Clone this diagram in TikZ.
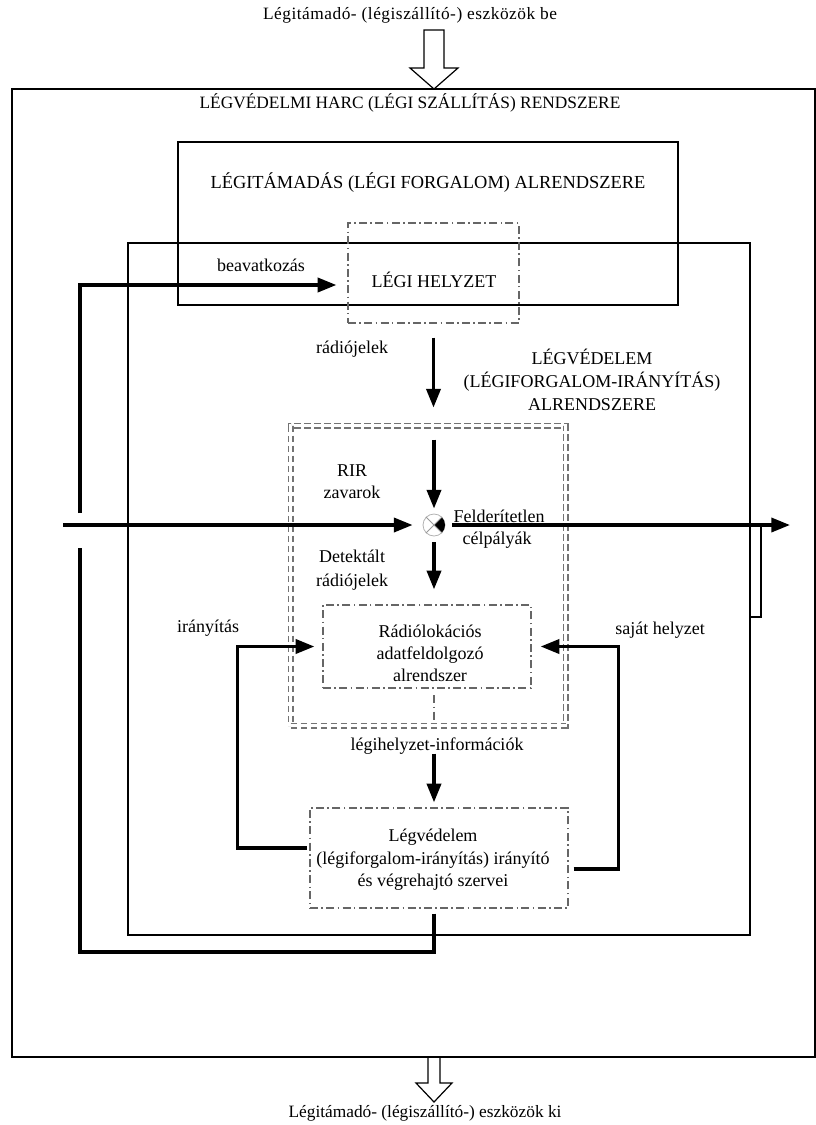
\documentclass[tikz,border=0pt]{standalone}
\usepackage{fontspec}
\setmainfont{Liberation Serif}
\usetikzlibrary{arrows.meta,calc,fit}

\begin{document}
\begin{tikzpicture}[x=0.75pt,y=-0.75pt,
  every node/.style={font=\fontsize{13.5}{16.5}\selectfont},
  framebox/.style={draw, line width=0.9pt, inner sep=0pt},
  dashdot/.style={draw=black!60, line width=0.9pt,
    dash pattern=on 6pt off 2.5pt on 1.2pt off 2.5pt},
  dashdotbox/.style={dashdot, inner sep=0pt},
  dblbox/.style={draw=black!55, line width=0.85pt, double, double distance=2.8pt,
    dash pattern=on 5pt off 2.5pt, inner sep=0pt},
  thickline/.style={line width=2.6pt},
  conn/.style={thickline, -{Triangle[length=14pt,width=10.5pt]}},
  hollow/.style={draw, line width=0.9pt, line join=miter},
  tall/.style={align=center, font=\fontsize{13.5}{17}\selectfont}
]
\path[use as bounding box] (0,0) rectangle (816,1125);

% --- boxes ---------------------------------------------------------------
\coordinate (sysA) at (12,89);      \coordinate (sysB) at (815,1057);
\coordinate (atkA) at (178,142);    \coordinate (atkB) at (678,305);
\coordinate (defA) at (128,243);    \coordinate (defB) at (750,935);
\coordinate (legiA) at (348,223);   \coordinate (legiB) at (519,323);
\coordinate (radA) at (290.5,425.5);\coordinate (radB) at (565.5,725.5);
\coordinate (rdpA) at (323,605);    \coordinate (rdpB) at (531,688);
\coordinate (cmdA) at (310,808);    \coordinate (cmdB) at (568,908);
\node[framebox, fit=(sysA)(sysB)] (sys) {};
\node[framebox, fit=(atkA)(atkB)] (atk) {};
\node[framebox, fit=(defA)(defB)] (def) {};
\node[dashdotbox, fit=(legiA)(legiB)] (legi) {};
\node[dblbox, fit=(radA)(radB)] (radar) {};
\node[dashdotbox, fit=(rdpA)(rdpB)] (rdp) {};
\node[dashdotbox, fit=(cmdA)(cmdB)] (cmd) {};

% --- summing junction ----------------------------------------------------
\node[circle, draw=black!30, line width=0.6pt, minimum size=16.5pt, inner sep=0pt] (sum) at (434,525) {};
\begin{scope}
  \clip (sum.center) circle[radius=8.25pt];
  \fill (sum.center) -- ++(20,-20) -- ++(0,40) -- cycle;
\end{scope}
\draw[black!40, line width=0.6pt] (sum.north west) -- (sum.south east)
  (sum.south west) -- (sum.north east);

% --- texts ---------------------------------------------------------------
\node (topin) at (410,15) {\fontsize{13}{16}\selectfont\addfontfeature{LetterSpace=3}Légitámadó- (légiszállító-) eszközök be};
\node (botout) at (425,1113) {\fontsize{13}{16}\selectfont Légitámadó- (légiszállító-) eszközök ki};
\node (systitle) at (410,103) {\fontsize{13}{16}\selectfont LÉGVÉDELMI HARC (LÉGI SZÁLLÍTÁS) RENDSZERE};
\node (atktext) at (428,183) {\fontsize{13.8}{16.5}\selectfont LÉGITÁMADÁS (LÉGI FORGALOM) ALRENDSZERE};
\node (legitext) at (434,280) {LÉGI HELYZET};
\node (lbBeav) at (261,265) {beavatkozás};
\node (lbRadio) at (352,349) {rádiójelek};
\node[tall] (lbDef) at (592,380) {LÉGVÉDELEM\\(LÉGIFORGALOM-IRÁNYÍTÁS)\\ALRENDSZERE};
\node[align=center] (lbRir) at (352,482) {RIR\\zavarok};
\node (lbFeld) at (499,516) {Felderítetlen};
\node (lbCel) at (497,540) {célpályák};
\node[align=center, font=\fontsize{13.5}{18}\selectfont] (lbDet) at (352,570) {Detektált\\rádiójelek};
\node[align=center] (rdptext) at (430,653) {Rádiólokációs\\adatfeldolgozó\\alrendszer};
\node (lbIrany) at (208,628) {irányítás};
\node (lbSajat) at (660,630) {saját helyzet};
\node (lbInfo) at (437,746) {légihelyzet-információk};
\node[tall] (cmdtext) at (433,860) {Légvédelem\\(légiforgalom-irányítás) irányító\\és végrehajtó szervei};

% --- hollow in/out arrows ------------------------------------------------
\coordinate (inTip) at (434,89);
\coordinate (outTip) at (434,1102);
\draw[hollow] (inTip) -- ++(-24,-21) -- ++(14,0) -- ++(0,-38) -- ++(20,0)
  -- ++(0,38) -- ++(14,0) -- cycle;
\draw[hollow] (outTip) -- ++(-18,-19) -- ++(12,0) -- ++(0,-26) -- ++(12,0)
  -- ++(0,26) -- ++(12,0) -- cycle;

% --- signal flow ---------------------------------------------------------
\coordinate (inL) at (63,525);
\coordinate (outR) at (790,525);
\draw[conn, shorten <=10.5pt, shorten >=13pt] (legi.south) -- (legi.south |- radar.north);
\draw[conn, shorten <=11pt, shorten >=3.75pt] (sum |- radar.north) -- (sum.north);
\draw[conn, shorten >=7.5pt] (inL) -- (sum.west);
\draw[conn, shorten <=5.25pt] (sum.east) -- (outR);
\draw[conn, shorten <=4.5pt, shorten >=11.25pt] (sum.south) -- (sum |- rdp.north);
\draw[dashdot, shorten <=5pt, shorten >=4pt] (sum |- rdp.south) -- (sum |- radar.south);
\draw[conn, shorten <=20.6pt, shorten >=3.75pt] (sum |- radar.south) -- (sum |- cmd.north);

% feedback loops
\draw[conn, shorten <=2pt, shorten >=6pt] ($(cmd.west)+(0,-10)$) -- ($(cmd.west)+(-72,-10)$) |- (rdp.west);
\draw[conn, shorten <=3.75pt, shorten >=6.75pt] ($(cmd.east)+(0,11)$) -- ($(cmd.east)+(50,11)$) |- (rdp.east);

\coordinate (fbC) at (80,952);
\coordinate (hopLo) at (80,548);
\coordinate (hopHi) at (80,513);
\draw[thickline, shorten <=3.75pt] (sum |- cmd.south) |- (fbC) -- (hopLo);
\draw[conn, shorten >=8.25pt] (hopHi) |- ($(legi.west)+(0,12)$);

% small bracket on the output line
\coordinate (stubA) at (761,526);
\coordinate (stubB) at (761,617);
\coordinate (stubC) at (750,617);
\draw[line width=0.9pt] (stubA) -- (stubB) -- (stubC);
\end{tikzpicture}
\end{document}
